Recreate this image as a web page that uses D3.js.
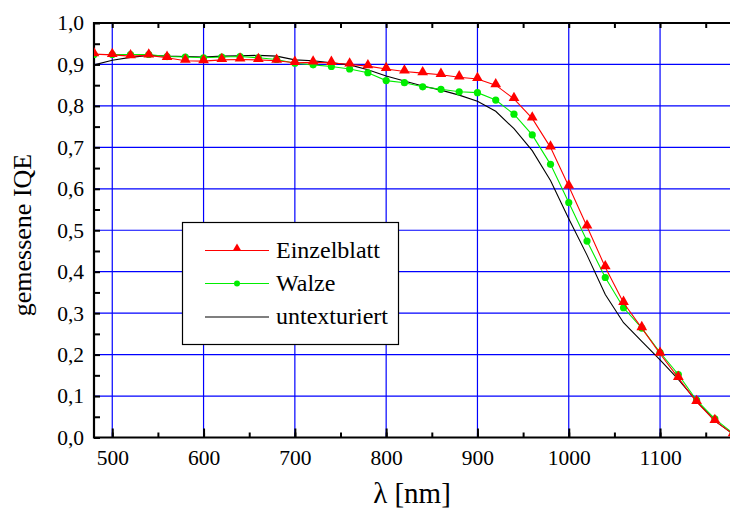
<!DOCTYPE html>
<html>
<head>
<meta charset="utf-8">
<script src="https://cdn.jsdelivr.net/npm/d3@7"></script>
<style>
  body { margin: 0; background: #fff; }
  svg { display: block; }
  svg text { font-family: "Liberation Serif", "Times New Roman", serif; fill: #000; }
</style>
</head>
<body>
<div id="chart"></div>
<script>
'use strict';

// wavelengths (nm)
var lambda = [480, 500, 520, 540, 560, 580, 600, 620, 640, 660, 680, 700, 720, 740, 760, 780, 800,
  820, 840, 860, 880, 900, 920, 940, 960, 980, 1000, 1020, 1040, 1060, 1080, 1100, 1120, 1140, 1160, 1180];

var einzelblatt = [0.925, 0.923, 0.920, 0.922, 0.916, 0.909, 0.908, 0.911, 0.912, 0.911, 0.909, 0.904,
  0.905, 0.904, 0.900, 0.896, 0.889, 0.883, 0.879, 0.875, 0.869, 0.865, 0.850, 0.817, 0.770, 0.700,
  0.606, 0.509, 0.411, 0.325, 0.264, 0.202, 0.144, 0.086, 0.040, 0.008];

var walze = [0.924, 0.924, 0.924, 0.924, 0.919, 0.918, 0.916, 0.918, 0.919, 0.916, 0.912, 0.903,
  0.899, 0.895, 0.889, 0.880, 0.861, 0.856, 0.846, 0.840, 0.834, 0.832, 0.814, 0.780, 0.730, 0.659,
  0.567, 0.474, 0.386, 0.313, 0.264, 0.205, 0.152, 0.090, 0.045, 0.010];

var untexturiert = [0.899, 0.910, 0.917, 0.922, 0.920, 0.919, 0.918, 0.920, 0.921, 0.922, 0.920, 0.911,
  0.909, 0.904, 0.899, 0.887, 0.872, 0.860, 0.848, 0.838, 0.826, 0.811, 0.787, 0.745, 0.692, 0.620,
  0.528, 0.440, 0.345, 0.277, 0.232, 0.187, 0.140, 0.088, 0.040, 0.008];

var xTicks = [500, 600, 700, 800, 900, 1000, 1100];
var yTicks = [0, 0.1, 0.2, 0.3, 0.4, 0.5, 0.6, 0.7, 0.8, 0.9, 1.0];

var w = 730, h = 512;
var padLeft = 94, padTop = 23, padBottom = 437.5;

var svg = d3.select('#chart').append('svg')
  .attr('width', w)
  .attr('height', h);

var x = d3.scaleLinear().domain([480, 1180]).range([padLeft, padLeft + 700 * 0.913]);
var y = d3.scaleLinear().domain([0, 1]).range([padBottom, padTop]);

var plotRight = x(1180);

svg.append('clipPath').attr('id', 'clip')
  .append('rect').attr('x', padLeft).attr('y', padTop - 8).attr('width', plotRight - padLeft + 8).attr('height', padBottom - padTop + 8);

// grid
var grid = svg.append('g').attr('stroke', '#0000ff').attr('stroke-width', 1.2);
grid.selectAll('line.v').data(xTicks).enter().append('line')
  .attr('x1', function (d) { return x(d); }).attr('x2', function (d) { return x(d); })
  .attr('y1', padTop).attr('y2', padBottom);
grid.selectAll('line.h').data(yTicks.slice(1, 10)).enter().append('line')
  .attr('x1', padLeft).attr('x2', plotRight)
  .attr('y1', function (d) { return y(d); }).attr('y2', function (d) { return y(d); });

// axes, ticks inside
var xMinor = d3.range(500, 1180, 50);
var yMinor = d3.range(0, 1.0001, 0.05);

function tickStyle(g) {
  g.select('.domain').remove();
  g.selectAll('line').attr('stroke-width', 2);
}

svg.append('g')
  .attr('transform', 'translate(0,' + padBottom + ')')
  .call(d3.axisTop(x).tickValues(xMinor).tickSize(5).tickFormat(''))
  .call(tickStyle);
svg.append('g')
  .attr('transform', 'translate(0,' + padBottom + ')')
  .call(d3.axisTop(x).tickValues(xTicks).tickSize(9).tickFormat(''))
  .call(tickStyle);
svg.append('g')
  .attr('transform', 'translate(0,' + padTop + ')')
  .call(d3.axisBottom(x).tickValues(xMinor).tickSize(5).tickFormat(''))
  .call(tickStyle);
svg.append('g')
  .attr('transform', 'translate(' + padLeft + ',0)')
  .call(d3.axisRight(y).tickValues(yMinor).tickSize(6).tickFormat(''))
  .call(tickStyle);

// x labels
svg.append('g')
  .attr('transform', 'translate(0,' + padBottom + ')')
  .call(d3.axisBottom(x).tickValues(xTicks).tickSize(0).tickPadding(12).tickFormat(d3.format('d')))
  .call(function (g) {
    g.select('.domain').remove();
    g.selectAll('text').style('font-size', '21.5px');
  });

// y labels
svg.append('g')
  .attr('transform', 'translate(' + padLeft + ',0)')
  .call(d3.axisLeft(y).tickValues(yTicks).tickSize(0).tickPadding(10)
    .tickFormat(function (d) { return d3.format('.1f')(d).replace('.', ','); }))
  .call(function (g) {
    g.select('.domain').remove();
    g.selectAll('text').style('font-size', '21.5px');
  });

// frame lines
svg.append('line').attr('x1', padLeft).attr('x2', plotRight).attr('y1', padBottom).attr('y2', padBottom)
  .attr('stroke', '#000').attr('stroke-width', 2.2);
svg.append('line').attr('x1', padLeft).attr('x2', plotRight).attr('y1', padTop).attr('y2', padTop)
  .attr('stroke', '#000').attr('stroke-width', 2.2);
svg.append('line').attr('x1', padLeft).attr('x2', padLeft).attr('y1', padTop - 1).attr('y2', padBottom + 1)
  .attr('stroke', '#000').attr('stroke-width', 2.2);

// series
var line = d3.line()
  .x(function (d) { return x(d[0]); })
  .y(function (d) { return y(d[1]); });

var plot = svg.append('g').attr('clip-path', 'url(#clip)');

var series = [
  { name: 'Einzelblatt', values: einzelblatt, color: '#ff0000', marker: 'tri' },
  { name: 'Walze', values: walze, color: '#00ee00', marker: 'dot' },
  { name: 'untexturiert', values: untexturiert, color: '#000000', marker: null }
];

var tri = d3.symbol().type(d3.symbolTriangle).size(50);

[2, 1, 0].forEach(function (k) {
  var s = series[k];
  var pts = lambda.map(function (l, i) { return [l, s.values[i]]; });
  plot.append('path').datum(pts)
    .attr('d', line)
    .attr('fill', 'none')
    .attr('stroke', s.color)
    .attr('stroke-width', 1.1);
  if (s.marker === 'dot') {
    plot.selectAll('circle.w').data(pts).enter().append('circle')
      .attr('cx', function (d) { return x(d[0]); })
      .attr('cy', function (d) { return y(d[1]); })
      .attr('r', 3.6)
      .attr('fill', s.color);
  } else if (s.marker === 'tri') {
    plot.selectAll('path.t').data(pts).enter().append('path')
      .attr('d', tri)
      .attr('transform', function (d) { return 'translate(' + x(d[0]) + ',' + (y(d[1]) - 1) + ')'; })
      .attr('fill', s.color);
  }
});

// legend
var lg = svg.append('g');
lg.append('rect').attr('x', 182.5).attr('y', 222.5).attr('width', 216).attr('height', 122)
  .attr('fill', '#fff').attr('stroke', '#000').attr('stroke-width', 1.2);
var ly = [250.5, 283.5, 317];
series.forEach(function (s, i) {
  lg.append('line').attr('x1', 205).attr('x2', 269).attr('y1', ly[i]).attr('y2', ly[i])
    .attr('stroke', s.color).attr('stroke-width', 1.1);
  if (s.marker === 'tri') {
    lg.append('path').attr('d', d3.symbol().type(d3.symbolTriangle).size(34))
      .attr('transform', 'translate(237,' + (ly[i] - 2) + ')').attr('fill', s.color);
  } else if (s.marker === 'dot') {
    lg.append('circle').attr('cx', 237).attr('cy', ly[i]).attr('r', 3).attr('fill', s.color);
  }
  lg.append('text').attr('x', 276).attr('y', ly[i] + 7).style('font-size', '24px').text(s.name);
});

// titles
svg.append('text')
  .attr('transform', 'translate(31,235) rotate(-90)')
  .attr('text-anchor', 'middle')
  .style('font-size', '26px')
  .text('gemessene IQE');
svg.append('text')
  .attr('x', 412).attr('y', 503)
  .attr('text-anchor', 'middle')
  .style('font-size', '29px')
  .text('λ [nm]');
</script>
</body>
</html>
